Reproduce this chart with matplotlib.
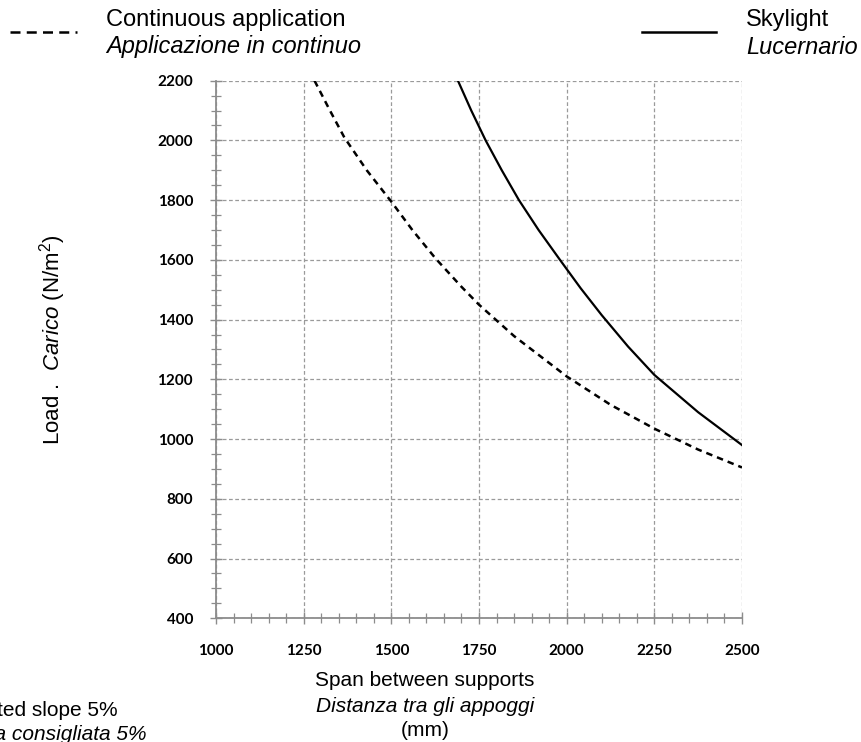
import numpy as np
import matplotlib
matplotlib.use('Agg')
import matplotlib.pyplot as plt
from matplotlib.ticker import MultipleLocator

plt.rcParams['font.family'] = ['Liberation Sans', 'DejaVu Sans']
plt.rcParams['mathtext.fontset'] = 'custom'
plt.rcParams['mathtext.rm'] = 'Liberation Sans'
plt.rcParams['mathtext.it'] = 'Liberation Sans:italic'

# valori
span_cont = [1281, 1325, 1366, 1430, 1500, 1560, 1626, 1700, 1750, 1850,
             2000, 2125, 2250, 2375, 2500]
load_cont = [2200, 2100, 2010, 1900, 1795, 1700, 1605, 1510, 1450, 1345,
             1210, 1115, 1035, 965, 905]

span_sky = [1690, 1728, 1769, 1815, 1864, 1920, 1981, 2040, 2100, 2175,
            2250, 2375, 2500]
load_sky = [2200, 2100, 2000, 1900, 1800, 1700, 1600, 1505, 1415, 1310,
            1215, 1090, 980]

x_ticks = [1000, 1250, 1500, 1750, 2000, 2250, 2500]
y_ticks = [400, 600, 800, 1000, 1200, 1400, 1600, 1800, 2000, 2200]

W, H = 862, 742
fig = plt.figure(figsize=(W / 100, H / 100), dpi=100)
ax = fig.add_axes([216 / W, 1 - 618.3 / H, (742 - 216) / W, (618.3 - 80.7) / H])

ax.plot(span_cont, load_cont, color='black', lw=1.8, linestyle=(0, (2.6, 2.0)))
ax.plot(span_sky, load_sky, color='black', lw=1.6)

ax.set_xlim(1000, 2500)
ax.set_ylim(400, 2200)
ax.set_xticks(x_ticks)
ax.set_yticks(y_ticks)
ax.xaxis.set_minor_locator(MultipleLocator(50))
ax.yaxis.set_minor_locator(MultipleLocator(50))

ax.grid(True, which='major', color='#9a9a9a', linestyle=(0, (3, 2)), lw=0.9)
for s in ['top', 'right']:
    ax.spines[s].set_visible(False)
for s in ['left', 'bottom']:
    ax.spines[s].set_color('#8c8c8c')
    ax.spines[s].set_linewidth(1.3)

ax.tick_params(which='major', direction='inout', length=9, width=1.0, color='#8c8c8c')
ax.tick_params(which='minor', direction='inout', length=7, width=0.9, color='#8c8c8c')
ax.tick_params(axis='x', pad=14)
ax.tick_params(axis='y', pad=12)
for lab in ax.get_xticklabels() + ax.get_yticklabels():
    lab.set_family('Lato')
    lab.set_fontweight('bold')
    lab.set_fontsize(11)

fs = 17

def fx(px):
    return px / W

def fy(py):
    return 1 - py / H

# legenda in alto
fig.add_artist(plt.Line2D([fx(10), fx(77)], [fy(32), fy(32)], color='black',
                          lw=1.8, linestyle=(0, (4, 2.5))))
fig.text(fx(106), fy(20), 'Continuous application', fontsize=fs, va='center')
fig.text(fx(106), fy(47), 'Applicazione in continuo', fontsize=fs, va='center', style='italic')

fig.add_artist(plt.Line2D([fx(642), fx(716)], [fy(32), fy(32)], color='black', lw=1.8))
fig.text(fx(746), fy(20), 'Skylight', fontsize=fs, va='center')
fig.text(fx(746), fy(47), 'Lucernario', fontsize=fs, va='center', style='italic')

# asse y
fig.text(fx(53), fy(340), r'Load .  $\it{Carico}$ (N/m$^2$)', fontsize=16,
         rotation=90, ha='center', va='center')

# asse x
fig.text(fx(425), fy(681), 'Span between supports', fontsize=15, ha='center', va='center')
fig.text(fx(425), fy(706), 'Distanza tra gli appoggi', fontsize=15, ha='center',
         va='center', style='italic')
fig.text(fx(425), fy(730), '(mm)', fontsize=15, ha='center', va='center')

# nota pendenza (tagliata a sinistra come nell'originale)
fig.text(fx(118), fy(711), 'Suggested slope 5%', fontsize=15, ha='right', va='center')
fig.text(fx(147), fy(734), 'Pendenza consigliata 5%', fontsize=15, ha='right',
         va='center', style='italic')

fig.savefig('out.png', dpi=100)
